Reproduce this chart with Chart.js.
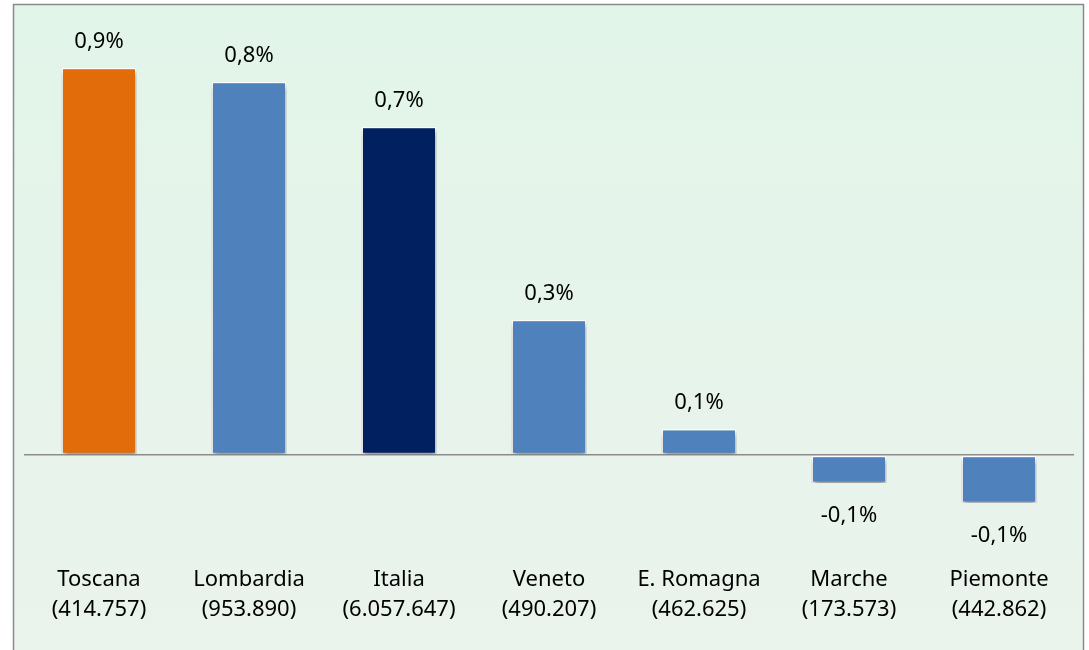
<!DOCTYPE html>
<html lang="it">
<head>
<meta charset="UTF-8">
<title>Variazione percentuale per regione</title>
<script src="https://cdn.jsdelivr.net/npm/chart.js"></script>
<style>
    html, body { margin: 0; padding: 0; background: #ffffff; }
    #wrap { position: relative; width: 1089px; height: 650px; }
</style>
</head>
<body>
<div id="wrap"><canvas id="barChart"></canvas></div>
<script>
    // dati
    const regioni = ['Toscana', 'Lombardia', 'Italia', 'Veneto', 'E. Romagna', 'Marche', 'Piemonte'];
    const totali = ['(414.757)', '(953.890)', '(6.057.647)', '(490.207)', '(462.625)', '(173.573)', '(442.862)'];
    const variazioni = [0.88, 0.848, 0.746, 0.307, 0.059, -0.064, -0.109];
    const coloriBarre = ['#e36c0a', '#4f81bd', '#002060', '#4f81bd', '#4f81bd', '#4f81bd', '#4f81bd'];

    const FONT = '"Noto Sans", sans-serif';

    function formatta(v) {
        return v.toFixed(1).replace('.', ',') + '%';
    }

    // sfondo e cornice
    const sfondo = {
        id: 'sfondo',
        beforeDraw(chart) {
            const ctx = chart.ctx;
            const g = ctx.createLinearGradient(0, 0, 0, chart.height);
            g.addColorStop(0, '#e2f5e9');
            g.addColorStop(1, '#eaf3ec');
            ctx.save();
            ctx.fillStyle = '#ffffff';
            ctx.fillRect(0, 0, chart.width, chart.height);
            ctx.fillStyle = g;
            ctx.fillRect(14, 5, 1069, 660);
            ctx.strokeStyle = '#8a8a8a';
            ctx.lineWidth = 1.5;
            ctx.strokeRect(13.5, 4.5, 1070, 670);
            ctx.restore();
        }
    };

    // ombra delle barre
    const ombra = {
        id: 'ombra',
        beforeDatasetsDraw(chart) {
            const ctx = chart.ctx;
            ctx.save();
            ctx.shadowColor = 'rgba(0,0,0,0.4)';
            ctx.shadowBlur = 5;
            ctx.shadowOffsetX = 1;
            ctx.shadowOffsetY = 4;
        },
        afterDatasetsDraw(chart) {
            chart.ctx.restore();
        }
    };

    // etichette dei valori
    const etichette = {
        id: 'etichette',
        afterDatasetsDraw(chart) {
            const ctx = chart.ctx;
            const meta = chart.getDatasetMeta(0);
            ctx.save();
            ctx.font = '22px ' + FONT;
            ctx.fillStyle = '#000000';
            ctx.textAlign = 'center';
            ctx.textBaseline = 'middle';
            meta.data.forEach((bar, i) => {
                const v = variazioni[i];
                const y = v >= 0 ? bar.y - 26 : bar.y + 33;
                ctx.fillText(formatta(v), bar.x, y);
            });
            ctx.restore();
        }
    };

    new Chart(document.getElementById('barChart'), {
        type: 'bar',
        data: {
            labels: regioni.map((r, i) => [r, totali[i]]),
            datasets: [{
                data: variazioni,
                backgroundColor: coloriBarre,
                borderColor: '#ffffff',
                borderWidth: 1.5,
                borderSkipped: false,
                barPercentage: 0.5,
                categoryPercentage: 1.0
            }]
        },
        options: {
            responsive: true,
            maintainAspectRatio: false,
            animation: false,
            layout: { padding: { left: 24, right: 15, top: 20, bottom: 20 } },
            plugins: {
                legend: { display: false },
                tooltip: { enabled: false }
            },
            scales: {
                x: {
                    grid: { display: false },
                    border: { display: false },
                    afterFit(scale) { scale.height = 84; },
                    ticks: {
                        color: '#000000',
                        font: { family: FONT, size: 22, lineHeight: 1.36 },
                        padding: 11,
                        maxRotation: 0
                    }
                },
                y: {
                    min: -0.207,
                    max: 0.9886,
                    display: true,
                    border: { display: false },
                    ticks: { display: false, stepSize: 0.1 },
                    grid: {
                        drawTicks: false,
                        lineWidth: 1.5,
                        color: ctx => Math.abs(ctx.tick.value) < 1e-9 ? '#8c8c8c' : 'rgba(0,0,0,0)'
                    }
                }
            }
        },
        plugins: [sfondo, ombra, etichette]
    });
</script>
</body>
</html>
